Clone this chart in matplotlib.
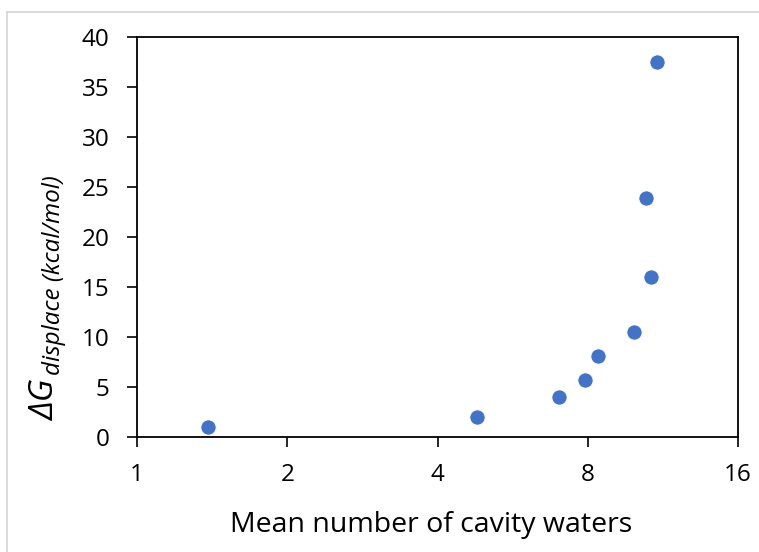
import matplotlib.pyplot as plt
from matplotlib.lines import Line2D

plt.rcParams["font.family"] = ["Open Sans", "DejaVu Sans"]

# mean number of cavity waters vs displacement free energy
mean_waters = [1.39, 4.79, 7.0, 7.9, 8.4, 9.9, 10.71, 10.48, 11.03]
dg_displace = [1.0, 2.0, 4.0, 5.7, 8.1, 10.5, 16.0, 23.9, 37.5]

x_ticks = [1, 2, 4, 8, 16]
y_ticks = list(range(0, 45, 5))

W, H = 759, 552
fig = plt.figure(figsize=(W / 100, H / 100), dpi=100)
ax = fig.add_axes([137 / W, 1 - 437 / H, (738 - 137) / W, (437 - 37) / H])

ax.scatter(mean_waters, dg_displace, s=120, color="#4472C4",
           edgecolors="white", linewidths=0.6, zorder=3)

ax.set_xscale("log", base=2)
ax.set_xlim(1, 16)
ax.set_ylim(0, 40)
ax.set_xticks(x_ticks)
ax.set_xticklabels([str(t) for t in x_ticks])
ax.set_yticks(y_ticks)
ax.minorticks_off()
ax.tick_params(axis="both", direction="out", length=7, width=1.2,
               labelsize=17.5)
ax.tick_params(axis="y", pad=13)
ax.tick_params(axis="x", pad=12)

for sp in ax.spines.values():
    sp.set_linewidth(1.3)
    sp.set_color("black")

ax.set_xlabel("Mean number of cavity waters", fontsize=20.5)
ax.xaxis.set_label_coords(0.49, -0.185)

# y label: big italic ΔG with a long italic subscript
fig.text(54 / W, 1 - 420 / H, "ΔG", rotation=90, rotation_mode="anchor",
         ha="left", va="baseline", fontsize=24, style="italic")
fig.text(60 / W, 1 - 375 / H, "displace (kcal/mol)", rotation=90,
         rotation_mode="anchor", ha="left", va="baseline", fontsize=17.5,
         style="italic")

# light frame around the chart area
frame_kw = dict(color="#d4d4d4", linewidth=1.2, transform=fig.transFigure)
fig.add_artist(Line2D([7 / W, 7 / W], [0, 1 - 12 / H], **frame_kw))
fig.add_artist(Line2D([7 / W, 1], [1 - 12 / H, 1 - 12 / H], **frame_kw))

fig.savefig("out.png", dpi=100)
